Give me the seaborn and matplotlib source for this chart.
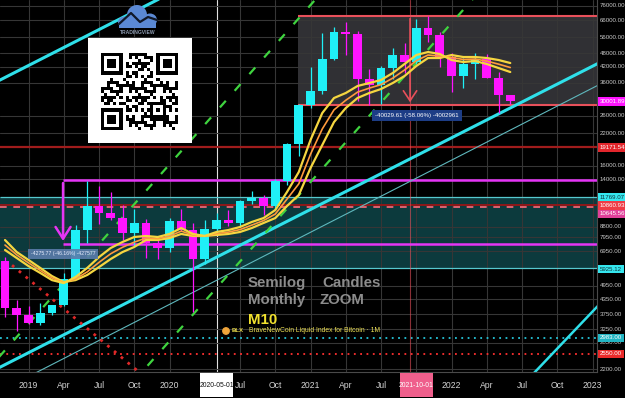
import numpy as np
import pandas as pd
import matplotlib
matplotlib.use("Agg")
import matplotlib.pyplot as plt
import matplotlib.transforms as mtransforms
from matplotlib.patches import Rectangle, Ellipse, Circle
from matplotlib.ticker import NullLocator
import seaborn as sns

# ---------------- data (BLX monthly candles, Nov 2018 .. Jun 2022) ----------------
months = list(pd.period_range("2018-11", "2022-06", freq="M").strftime("%Y-%m"))
opens = [6340, 4000, 3740, 3460, 3820, 4100, 5300, 8550, 10800, 10080, 9600, 8300,
         9150, 7550, 7190, 9350, 8540, 6420, 8630, 9450, 9140, 11350, 11660, 10780,
         13800, 19700, 28990, 33100, 45200, 58800, 57700, 37300, 35000, 41500, 47100, 43800,
         61300, 57000, 46200, 38500, 43200, 45500, 37700, 31800]
highs = [6570, 4300, 4080, 4200, 4130, 5640, 9000, 13800, 13150, 12320, 10950, 10500,
         9500, 7750, 9570, 10500, 9180, 9440, 10070, 10380, 11450, 12480, 12070, 14100,
         19900, 29300, 41950, 58350, 61800, 64900, 59600, 41300, 42300, 50500, 52900, 67000,
         69000, 59100, 47900, 45800, 48200, 47400, 40000, 32000]
lows = [3650, 3200, 3400, 3390, 3730, 4070, 5280, 7500, 9070, 9400, 7730, 7300,
        6530, 6450, 6870, 8470, 3850, 6150, 8120, 8900, 8900, 10980, 9880, 10380,
        13200, 17600, 28100, 32300, 45000, 47000, 30000, 28800, 29300, 37300, 39600, 43300,
        53300, 42000, 32900, 34300, 37200, 37600, 26700, 29300]
closes = [4000, 3740, 3460, 3820, 4100, 5300, 8550, 10800, 10080, 9600, 8300, 9150,
          7550, 7190, 9350, 8540, 6420, 8630, 9450, 9140, 11350, 11660, 10780, 13800,
          19700, 28990, 33100, 45200, 58800, 57700, 37300, 35000, 41500, 47100, 43800, 61300,
          57000, 46200, 38500, 43200, 45500, 37700, 31800, 30002]

# moving-average ribbons
ma_fast = [7030, 6500, 6010, 5620, 5240, 5090, 5400, 5900, 6560, 7170, 7600, 7980,
           8060, 7980, 8220, 8710, 8220, 8060, 8380, 8540, 8800, 9240, 9600, 10380,
           12380, 15040, 20560, 26750, 30970, 32520, 34820, 35850, 36920, 39530, 43150, 47110,
           48510, 47580, 44870, 44000, 44440, 43150, 41500, 39910]
ma_mid = [7380, 6700, 6200, 5760, 5350, 5110, 5300, 5680, 6230, 6780, 7220, 7590,
          7900, 7860, 8050, 8450, 8140, 8060, 8250, 8370, 8580, 8960, 9370, 9980,
          11550, 13400, 17900, 22900, 27600, 30300, 32800, 34100, 35300, 37600, 40700, 44600,
          47100, 46600, 46000, 45100, 45300, 44400, 43100, 41700]
ma_slow = [7750, 6890, 6380, 5900, 5450, 5140, 5240, 5510, 5950, 6440, 6890, 7240,
           7750, 7750, 7900, 8220, 8060, 8060, 8140, 8220, 8380, 8710, 9150, 9600,
           10800, 12020, 15640, 19580, 24500, 28090, 30970, 32520, 33810, 35850, 38380, 42320,
           45750, 45750, 47110, 46200, 46200, 45750, 44870, 43570]

tick_months = ["2019-01", "2019-04", "2019-07", "2019-10", "2020-01", "2020-05", "2020-07",
               "2020-10", "2021-01", "2021-04", "2021-07", "2021-10", "2022-01", "2022-04",
               "2022-07", "2022-10", "2023-01"]
tick_labels = ["2019", "Apr", "Jul", "Oct", "2020", "2020-05-01", "Jul", "Oct", "2021",
               "Apr", "Jul", "2021-10-01", "2022", "Apr", "Jul", "Oct", "2023"]

price_ticks = [76000, 66000, 56000, 48000, 42000, 36000, 26000, 22000, 16000, 14000,
               8800, 7950, 6950, 4950, 4350, 3750, 3250, 2850, 2200]

# horizontal levels
level_ath, level_box_low = 68945, 28915
level_red = 19171.54
band_top, band_bottom = 11769.07, 5925.12
level_red2, level_pink = 10860.93, 10645.56
mag_top, mag_bottom = 13880, 7473
level_cyan_dot, level_red_dot = 2983.00, 2550.00
last_price = 30001.89

# drawn trend lines: (month index, price) anchor pairs
cyan_upper = ([-0.43, 12.94], [36900, 80580])
cyan_lower = ([-0.43, 49.36], [2240, 40700])
cyan_thin = ([18.04, 49.36], [5240, 32880])
cyan_steep = ([45.1, 50.2], [2138, 3950])
green_1 = ([-0.43, 26.38], [2500, 80580])
green_2 = ([11.66, 39.74], [2138, 80580])
red_dots = ([0.6, 11.4], [6060, 2138])

box_start_month = 24.9
measure_month = 34.47
mag_start_month = 4.94

# ---------------- styling ----------------
sns.set_theme(style="dark", rc={"axes.facecolor": "black", "figure.facecolor": "black"})
plt.rcParams["font.family"] = ["Liberation Sans", "DejaVu Sans"]

W, H = 625, 398
PR, PB = 597, 372
CYAN = "#1ff0f7"
MAG = "#ff14ff"
GRID = "#363636"

fig = plt.figure(figsize=(W / 100, H / 100), dpi=100)
fig.patch.set_facecolor("black")
ax = fig.add_axes([0, (H - PB) / H, PR / W, PB / H])
ax.set_facecolor("black")
ax.set_yscale("log")
XL = (-0.4255, 50.38)
ax.set_xlim(*XL)
ax.set_ylim(2138, 80580)


def midx(s):
    y, mo = map(int, s.split("-"))
    return (y - 2018) * 12 + mo - 11


def ext_line(anchor, lo=XL[0] - 2, hi=XL[1] + 2):
    (m0, m1), (p0, p1) = anchor
    ms = np.array([lo, hi])
    lp = np.log(p0) + (np.log(p1) - np.log(p0)) * (ms - m0) / (m1 - m0)
    return ms, np.exp(lp)


xs = np.arange(len(months))
tick_x = [midx(t) for t in tick_months]

# grid
for tx, lab in zip(tick_x, tick_labels):
    c = "#e0e0e0" if lab == "2020-05-01" else GRID
    ax.axvline(tx, color=c, lw=0.8, zorder=0.8)
for p in price_ticks:
    ax.axhline(p, color=GRID, lw=0.8, zorder=0.8)

# zones
ax.fill_between(XL, band_bottom, band_top, color="#0c3a3d", zorder=0.5, lw=0)
ax.hlines([band_top, band_bottom], *XL, color="#56c9cf", lw=0.9, zorder=1)
ax.fill_between([box_start_month, XL[1]], level_box_low, level_ath, color="#303034", zorder=0.6, lw=0)
ax.hlines([level_ath, level_box_low], box_start_month, XL[1], color="#e8505b", lw=1.5, zorder=1.2)
ax.axhline(level_red, color="#a01c1c", lw=1.6, zorder=1)
ax.axhline(level_red2, color="#8e1818", lw=1.4, zorder=1)
ax.axhline(level_pink, color="#ff6b7a", lw=1.2, ls=(0, (4, 4)), zorder=1.1)
ax.axhline(level_cyan_dot, color="#26c6da", lw=1.3, ls=(0, (1, 2.5)), zorder=1)
ax.axhline(level_red_dot, color="#ff3030", lw=1.3, ls=(0, (1, 2.5)), zorder=1)

# magenta measuring box
ax.hlines([mag_top, mag_bottom], mag_start_month, XL[1], color="#e535f5", lw=1.8, zorder=1.3)
ax.annotate("", xy=(mag_start_month, mag_bottom), xytext=(mag_start_month, mag_top),
            arrowprops=dict(arrowstyle="->,head_length=0.7,head_width=0.45", color="#e535f5", lw=1.8),
            zorder=1.3)
# pink measure
ax.axvline(measure_month, color="#e8505b", lw=0.8, alpha=0.6, zorder=1.1)
ax.annotate("", xy=(measure_month, level_box_low), xytext=(measure_month, level_ath),
            arrowprops=dict(arrowstyle="->,head_length=0.6,head_width=0.4", color="#e8505b", lw=1.2),
            zorder=1.3)

# trend lines
for anc, col, lw in [(cyan_upper, "#2fe0ea", 2.2), (cyan_lower, "#2fe0ea", 2.2),
                     (cyan_thin, "#5fb8bd", 0.8), (cyan_steep, "#2fe0ea", 1.8)]:
    mm, pp = ext_line(anc)
    ax.plot(mm, pp, color=col, lw=lw, zorder=2, solid_capstyle="butt")
for anc in [green_1, green_2]:
    mm, pp = ext_line(anc)
    ax.plot(mm, pp, color="#3fd43f", lw=1.6, ls=(0, (4, 6)), zorder=3)
mm, pp = ext_line(red_dots, lo=red_dots[0][0], hi=XL[1])
ax.plot(mm, pp, color="#e02828", lw=2.0, ls=(0, (1, 2.2)), zorder=2)

# candles
o = np.array(opens, float); c = np.array(closes, float)
colors = [CYAN if cc >= oo else MAG for oo, cc in zip(o, c)]
ax.vlines(xs, lows, highs, colors=colors, lw=0.9, zorder=4)
ax.bar(xs, np.abs(c - o), bottom=np.minimum(o, c), width=0.74, color=colors, lw=0, zorder=4)

# moving averages
sns.lineplot(x=xs, y=ma_slow, ax=ax, color="#f5d640", lw=1.6, zorder=5)
sns.lineplot(x=xs, y=ma_mid, ax=ax, color="#ff9b3d", lw=1.2, zorder=5)
sns.lineplot(x=xs, y=ma_fast, ax=ax, color="#f5d640", lw=1.6, zorder=5)

ax.set_xlabel(""); ax.set_ylabel("")
ax.set_xticks([]); ax.set_yticks([])
ax.yaxis.set_minor_locator(NullLocator())
ax.grid(False)
for s in ["top", "left"]:
    ax.spines[s].set_visible(False)
for s in ["right", "bottom"]:
    ax.spines[s].set_color("#4a4a4a"); ax.spines[s].set_linewidth(0.8)

# right price scale
ytr = mtransforms.blended_transform_factory(ax.transAxes, ax.transData)
RFS = 4.4
for p in price_ticks:
    ax.text(1.005, p, f"{p:.2f}", transform=ytr, ha="left", va="center", fontsize=RFS,
            color="#c9c9c9", clip_on=False, zorder=6)
marks = [(last_price, MAG, "white", 0), (level_red, "#e3262c", "white", 0),
         (band_top, "#35e6ee", "#10343a", 0), (level_red2, "#ef3b45", "white", 0),
         (level_pink, "#e0409a", "white", -6.5), (band_bottom, "#35e6ee", "#10343a", -1.5),
         (level_cyan_dot, "#22b6c4", "white", 0), (level_red_dot, "#ea2a2a", "white", 0)]
for p, fc, tc, off in marks:
    tr = ytr + mtransforms.ScaledTranslation(0, off / 100, fig.dpi_scale_trans)
    ax.text(1.005, p, f"{p:.2f}", transform=tr, ha="left", va="center", fontsize=RFS,
            color=tc, clip_on=False, zorder=7,
            bbox=dict(boxstyle="square,pad=0.3", fc=fc, ec="none"))

# bottom time scale
xtr = mtransforms.blended_transform_factory(ax.transData, ax.transAxes)
for tx, lab in zip(tick_x, tick_labels):
    col, fs = "#d4d4d4", 6.2
    if lab in ("2020-05-01", "2021-10-01"):
        fc = "white" if lab == "2020-05-01" else "#ef5f8c"
        col = "#111111" if lab == "2020-05-01" else "white"
        fs = 4.9
        ax.add_patch(Rectangle((tx - 1.42, -0.068), 2.84, 0.066, transform=xtr, fc=fc, ec="none",
                               clip_on=False, zorder=6))
    ax.text(tx, -0.036, lab, transform=xtr, ha="center", va="center", fontsize=fs, color=col,
            clip_on=False, zorder=7)

# ---------------- overlay: annotations, logo, QR ----------------
ov = fig.add_axes([0, 0, 1, 1], zorder=10)
ov.set_xlim(0, W); ov.set_ylim(H, 0); ov.axis("off"); ov.patch.set_alpha(0)

ov.text(417, 115.5, "-40029.61 (-58.06%) -4002961", ha="center", va="center", fontsize=4.4,
        color="white", bbox=dict(boxstyle="square,pad=0.5", fc="#1d3d86", ec="none"))
ov.text(63, 254, "-4275.77 (-46.16%) -427577", ha="center", va="center", fontsize=3.7,
        color="#e8eeff", bbox=dict(boxstyle="square,pad=0.5", fc="#5a7cab", ec="none", alpha=0.9))

grey = "#8c8c8c"
FS = 10.8
ov.text(248, 283, "Semilog", color=grey, fontsize=FS, fontweight="bold", va="center")
ov.text(322, 283, "Candles", color=grey, fontsize=FS, fontweight="bold", va="center")
ov.text(248, 300, "Monthly", color=grey, fontsize=FS, fontweight="bold", va="center")
ov.text(320, 300, "ZOOM", color=grey, fontsize=FS, fontweight="bold", va="center")
ov.text(248, 320, "M10", color="#f2e22e", fontsize=FS, fontweight="bold", va="center")
ov.add_patch(Circle((226, 331), 3.2, color="#f0a53a"))
ov.text(232, 331, "BLX", color="#e8d84a", fontsize=4.3, fontweight="bold", va="center")
ov.text(249, 331, "BraveNewCoin Liquid Index for Bitcoin · 1M", color="#ecdf55", fontsize=4.9, va="center")

# TradingView logo
cloud = "#5b89d4"
for (cx, cy, w, h) in [(125, 22, 14, 11), (137, 15, 20, 20), (150, 20, 14, 13)]:
    ov.add_patch(Ellipse((cx, cy), w, h, color=cloud, lw=0))
ov.add_patch(Rectangle((119, 19), 37, 9, color=cloud, lw=0))
ov.plot([119, 131, 140, 148, 157], [24, 13, 22, 17, 20], color="#101828", lw=1.6, solid_capstyle="round")
ov.text(137.5, 33, "TRADINGVIEW", ha="center", va="center", fontsize=3.6, color="#8c9ab0", fontweight="bold")

# QR code card
ov.add_patch(Rectangle((88, 38), 104, 105, color="white", lw=0))
n = 25
q = np.zeros((n, n), bool)
for i in range(n):
    for j in range(n):
        q[i, j] = ((i * i * 31 + j * j * 17 + i * j * 7 + i * 3 + j * 5) % 11) < 5
for (r0, c0) in [(0, 0), (0, n - 7), (n - 7, 0)]:
    rs, cs = max(r0 - 1, 0), max(c0 - 1, 0)
    q[rs:r0 + 8, cs:c0 + 8] = False
    q[r0:r0 + 7, c0:c0 + 7] = True
    q[r0 + 1:r0 + 6, c0 + 1:c0 + 6] = False
    q[r0 + 2:r0 + 5, c0 + 2:c0 + 5] = True
q[n - 9:n - 4, n - 9:n - 4] = True
q[n - 8:n - 5, n - 8:n - 5] = False
q[n - 7, n - 7] = True
ov.imshow(np.where(q, 0.0, 1.0), cmap="gray", vmin=0, vmax=1, extent=(101, 178, 130, 53),
          interpolation="nearest", zorder=11)
ov.set_xlim(0, W); ov.set_ylim(H, 0)

fig.savefig("out.png", dpi=100, facecolor="black")
